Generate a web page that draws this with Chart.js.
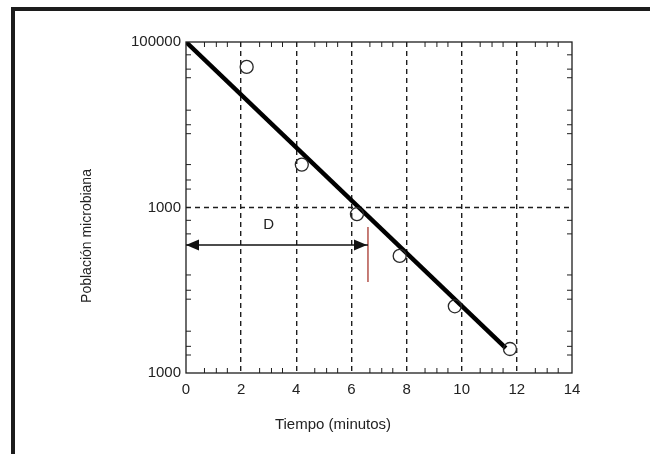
<!DOCTYPE html>
<html>
<head>
<meta charset="utf-8">
<script src="https://cdn.jsdelivr.net/npm/chart.js@4"></script>
<style>
  body { margin: 0; background: #fff; }
</style>
</head>
<body>
<canvas id="grafico" width="650" height="454"></canvas>
<script>
// datos
const tiempo = [2.2, 4.2, 6.2, 7.75, 9.75, 11.75];
const poblacion = [50000, 3300, 830, 260, 64, 19.5];

const ajusteX = [0, 11.6];
const ajusteY = [100000, 20];

const referenciaY = 1000;
const flechaY = 352;
const flechaX = [0, 6.6];
const marcaY = [580, 126];

const xTicks = [0, 2, 4, 6, 8, 10, 12, 14];
const yTicks = [10, 1000, 100000];
const yTickLabels = ['1000', '1000', '100000'];

const xMenores = [0.67, 1.1, 1.5, 2.67, 3.1, 3.5, 4.67, 5.1, 5.5, 6.67, 7.1, 7.5,
                  8.67, 9.1, 9.5, 10.67, 11.1, 11.5, 12.67, 13.1, 13.5];
const yMenores = [70000, 47000, 37000, 15000, 10000, 7800, 3300, 2150, 1670,
                  700, 480, 153, 100, 78, 32, 21, 16.5];

const tinta = '#1e1e1e';

const marcoPlugin = {
    id: 'marco',
    afterDraw(chart) {
        const ctx = chart.ctx;
        const a = chart.chartArea;
        const x = chart.scales.x;
        const y = chart.scales.y;
        ctx.save();

        // marco exterior
        ctx.fillStyle = '#1c1c1c';
        ctx.fillRect(11, 7, 650, 4);
        ctx.fillRect(11, 7, 4, 454);

        // borde del area
        ctx.strokeStyle = tinta;
        ctx.lineWidth = 1.3;
        ctx.strokeRect(a.left, a.top, a.right - a.left, a.bottom - a.top);

        // marcas menores hacia adentro
        ctx.lineWidth = 1;
        ctx.beginPath();
        xMenores.forEach(v => {
            const px = x.getPixelForValue(v);
            ctx.moveTo(px, a.bottom); ctx.lineTo(px, a.bottom - 5);
            ctx.moveTo(px, a.top); ctx.lineTo(px, a.top + 5);
        });
        yMenores.forEach(v => {
            const py = y.getPixelForValue(v);
            ctx.moveTo(a.left, py); ctx.lineTo(a.left + 5, py);
            ctx.moveTo(a.right, py); ctx.lineTo(a.right - 5, py);
        });
        ctx.stroke();

        // puntas de la flecha D
        const fy = y.getPixelForValue(flechaY);
        const x0 = x.getPixelForValue(flechaX[0]);
        const x1 = x.getPixelForValue(flechaX[1]) - 1;
        ctx.fillStyle = '#111';
        ctx.beginPath();
        ctx.moveTo(x0, fy); ctx.lineTo(x0 + 13, fy - 5.5); ctx.lineTo(x0 + 13, fy + 5.5);
        ctx.closePath(); ctx.fill();
        ctx.beginPath();
        ctx.moveTo(x1, fy); ctx.lineTo(x1 - 13, fy - 5.5); ctx.lineTo(x1 - 13, fy + 5.5);
        ctx.closePath(); ctx.fill();

        // textos
        ctx.fillStyle = '#222';
        ctx.font = '15px "Liberation Sans", Arial, sans-serif';
        ctx.textAlign = 'center';
        ctx.textBaseline = 'middle';
        ctx.fillText('D', x.getPixelForValue(3), fy - 20);
        ctx.fillText('Tiempo (minutos)', 333, 425);

        ctx.font = '14px "Liberation Sans", Arial, sans-serif';
        ctx.translate(87, 236);
        ctx.rotate(-Math.PI / 2);
        ctx.fillText('Población microbiana', 0, 0);
        ctx.restore();
    }
};

const ctx = document.getElementById('grafico').getContext('2d');
const chart = new Chart(ctx, {
    type: 'scatter',
    data: {
        datasets: [
            {
                label: 'Observado',
                data: tiempo.map((t, i) => ({ x: t, y: poblacion[i] })),
                pointStyle: 'circle',
                pointRadius: 6.5,
                borderWidth: 1.3,
                borderColor: '#2a2a2a',
                backgroundColor: 'rgba(255,255,255,0)',
                order: 0
            },
            {
                label: 'Ajuste',
                type: 'line',
                data: ajusteX.map((t, i) => ({ x: t, y: ajusteY[i] })),
                borderColor: '#000',
                borderWidth: 4.5,
                pointRadius: 0,
                fill: false,
                order: 1
            },
            {
                label: 'Referencia',
                type: 'line',
                data: [{ x: 0, y: referenciaY }, { x: 14, y: referenciaY }],
                borderColor: tinta,
                borderWidth: 1.3,
                borderDash: [5, 4],
                pointRadius: 0,
                fill: false,
                order: 2
            },
            {
                label: 'D',
                type: 'line',
                data: flechaX.map(t => ({ x: t, y: flechaY })),
                borderColor: '#111',
                borderWidth: 1.6,
                pointRadius: 0,
                fill: false,
                order: 2
            },
            {
                label: 'Marca',
                type: 'line',
                data: marcaY.map(v => ({ x: flechaX[1], y: v })),
                borderColor: '#a8392f',
                borderWidth: 1.3,
                pointRadius: 0,
                fill: false,
                order: 2
            }
        ]
    },
    options: {
        responsive: false,
        animation: false,
        layout: { padding: { left: 0, top: 42, right: 78, bottom: 0 } },
        plugins: {
            legend: { display: false },
            tooltip: { enabled: false }
        },
        scales: {
            x: {
                type: 'linear',
                min: 0,
                max: 14,
                afterFit: s => { s.height = 81; },
                afterBuildTicks: s => { s.ticks = xTicks.map(v => ({ value: v })); },
                border: { display: false, dash: [5, 4] },
                grid: {
                    drawTicks: false,
                    color: c => (c.tick && (c.tick.value === 0 || c.tick.value === 14)) ? 'rgba(0,0,0,0)' : tinta,
                    lineWidth: 1.4
                },
                ticks: {
                    padding: 8,
                    color: '#222',
                    font: { family: '"Liberation Sans", Arial, sans-serif', size: 15 }
                }
            },
            y: {
                type: 'logarithmic',
                min: 10,
                max: 100000,
                afterFit: s => { s.width = 186; },
                afterBuildTicks: s => { s.ticks = yTicks.map(v => ({ value: v })); },
                border: { display: false },
                grid: { display: false, drawTicks: false },
                ticks: {
                    padding: 5,
                    color: '#222',
                    font: { family: '"Liberation Sans", Arial, sans-serif', size: 15 },
                    callback: v => yTickLabels[yTicks.indexOf(v)]
                }
            }
        }
    },
    plugins: [marcoPlugin]
});
</script>
</body>
</html>
